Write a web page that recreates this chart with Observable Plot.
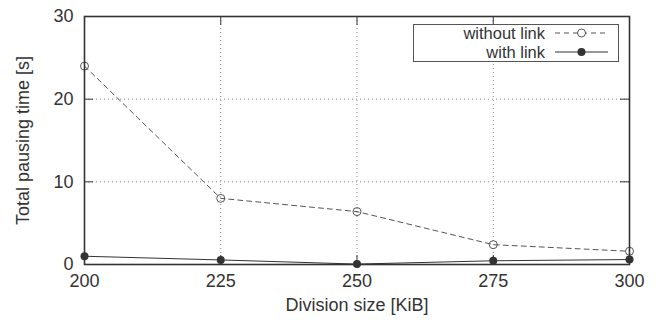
<!DOCTYPE html>
<html><head><meta charset="utf-8">
<script src="https://cdn.jsdelivr.net/npm/d3@7"></script>
<script src="https://cdn.jsdelivr.net/npm/@observablehq/plot@0.6"></script>
<style>
html,body{margin:0;padding:0;background:#fff;}
#chart svg{font-family:"Liberation Sans",Arial,sans-serif;}
</style>
</head><body><div id="chart"></div>
<script>
const sizes = [200, 225, 250, 275, 300];
const withoutLink = [24.0, 8.0, 6.4, 2.4, 1.6];
const withLink = [1.0, 0.55, 0.05, 0.45, 0.6];
const xTicks = [200, 225, 250, 275, 300];
const yTicks = [0, 10, 20, 30];
const seriesNames = ["without link", "with link"];

const dWithout = sizes.map((s, i) => ({x: s, y: withoutLink[i]}));
const dWith = sizes.map((s, i) => ({x: s, y: withLink[i]}));

const W = 662, H = 320, mL = 84, mR = 33, mT = 16, mB = 56;
const pw = W - mL - mR, ph = H - mT - mB, tk = 9;
const xMin = 200, xMax = 300, yMin = 0, yMax = 30;
const tkY = (yMax - yMin) * tk / ph;   // tick length in y units
const tkX = (xMax - xMin) * tk / pw;   // tick length in x units
const col = "#333";
const gridCol = "#888";
const FS = 18;

const plot = Plot.plot({
  width: W, height: H,
  marginLeft: mL, marginRight: mR, marginTop: mT, marginBottom: mB,
  style: {fontSize: FS + "px", color: col, background: "#fff", overflow: "visible"},
  x: {domain: [xMin, xMax]},
  y: {domain: [yMin, yMax]},
  marks: [
    Plot.ruleX(xTicks.filter(t => t > xMin && t < xMax), {stroke: gridCol, strokeDasharray: "1,3", strokeWidth: 1}),
    Plot.ruleY(yTicks.filter(t => t > yMin && t < yMax), {stroke: gridCol, strokeDasharray: "1,3", strokeWidth: 1}),
    Plot.ruleX(xTicks, {y1: yMin, y2: yMin + tkY, stroke: col}),
    Plot.ruleX(xTicks, {y1: yMax - tkY, y2: yMax, stroke: col}),
    Plot.ruleY(yTicks, {x1: xMin, x2: xMin + tkX, stroke: col}),
    Plot.ruleY(yTicks, {x1: xMax - tkX, x2: xMax, stroke: col}),
    Plot.axisX({ticks: xTicks, tickSize: 0, tickPadding: 10, tickFormat: d => String(d), fontSize: FS,
      label: "Division size [KiB]", labelAnchor: "center", labelArrow: "none", labelOffset: 46}),
    Plot.axisY({ticks: yTicks, tickSize: 0, tickPadding: 11, tickFormat: d => String(d), fontSize: FS,
      label: "Total pausing time [s]", labelAnchor: "center", labelArrow: "none", labelOffset: 68}),
    Plot.line(dWithout, {x: "x", y: "y", stroke: "#555", strokeWidth: 1, strokeDasharray: "5,4"}),
    Plot.dot(dWithout, {x: "x", y: "y", r: 4, stroke: "#555", fill: "none", strokeWidth: 1}),
    Plot.line(dWith, {x: "x", y: "y", stroke: col, strokeWidth: 1}),
    Plot.dot(dWith, {x: "x", y: "y", r: 4, fill: col, stroke: "none"}),
    Plot.frame({stroke: col, strokeWidth: 1.6})
  ]
});
document.getElementById("chart").appendChild(plot);

// legend
const LFS = 16.5;
const svg = d3.select(plot);
const g = svg.append("g").attr("font-size", LFS).attr("fill", col);
g.append("rect").attr("x", 413.5).attr("y", 24.5).attr("width", 205).attr("height", 37)
  .attr("fill", "#fff").attr("stroke", "#555").attr("stroke-width", 1);
const rows = [
  {name: seriesNames[0], y: 33, dash: "5,4", open: true},
  {name: seriesNames[1], y: 52, dash: null, open: false}
];
rows.forEach(r => {
  g.append("text").attr("x", 545).attr("y", r.y).attr("dy", "0.35em").attr("text-anchor", "end").text(r.name);
  g.append("line").attr("x1", 555).attr("x2", 608).attr("y1", r.y).attr("y2", r.y)
    .attr("stroke", r.open ? "#555" : col).attr("stroke-dasharray", r.dash);
  g.append("circle").attr("cx", 581.5).attr("cy", r.y).attr("r", 4)
    .attr("fill", r.open ? "#fff" : col).attr("stroke", r.open ? "#555" : "none");
});
</script></body></html>
